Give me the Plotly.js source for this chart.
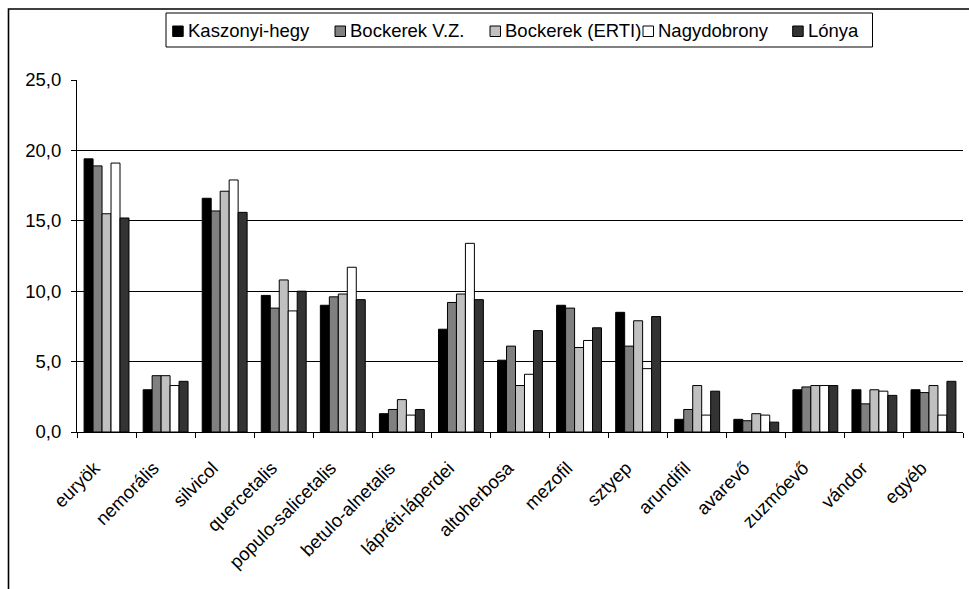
<!DOCTYPE html>
<html>
<head>
<meta charset="utf-8">
<script src="https://cdn.plot.ly/plotly-3.0.1.min.js"></script>
<style>html,body{margin:0;padding:0;background:#fff;}#chart{width:969px;height:589px;}</style>
</head>
<body>
<div id="chart"></div>
<script>
const categories = ["euryök","nemorális","silvicol","quercetalis","populo-salicetalis","betulo-alnetalis","lápréti-láperdei","altoherbosa","mezofil","sztyep","arundifil","avarevő","zuzmóevő","vándor","egyéb"];
const seriesNames = ["Kaszonyi-hegy","Bockerek V.Z.","Bockerek (ERTI)","Nagydobrony","Lónya"];
const kaszonyi   = [19.4, 3.0, 16.6, 9.7, 9.0, 1.3, 7.3, 5.1, 9.0, 8.5, 0.9, 0.9, 3.0, 3.0, 3.0];
const bockerekVZ = [18.9, 4.0, 15.7, 8.8, 9.6, 1.6, 9.2, 6.1, 8.8, 6.1, 1.6, 0.8, 3.2, 2.0, 2.8];
const bockerekE  = [15.5, 4.0, 17.1, 10.8, 9.8, 2.3, 9.8, 3.3, 6.0, 7.9, 3.3, 1.3, 3.3, 3.0, 3.3];
const nagydobrony= [19.1, 3.3, 17.9, 8.6, 11.7, 1.2, 13.4, 4.1, 6.5, 4.5, 1.2, 1.2, 3.3, 2.9, 1.2];
const lonya      = [15.2, 3.6, 15.6, 10.0, 9.4, 1.6, 9.4, 7.2, 7.4, 8.2, 2.9, 0.7, 3.3, 2.6, 3.6];
const yTicks = [0, 5, 10, 15, 20, 25];

const seriesValues = [kaszonyi, bockerekVZ, bockerekE, nagydobrony, lonya];
const colors = ["#000000","#808080","#c0c0c0","#ffffff","#333333"];

const traces = seriesNames.map((n, i) => ({
  type: "bar",
  name: n,
  x: categories,
  y: seriesValues[i],
  marker: {color: colors[i], line: {color: "#000", width: 1}},
  showlegend: false
}));

const W = 969, H = 589, L = 77, R = 6, T = 80, B = 157;
const pw = W - L - R, ph = H - T - B;
const px = v => (v - L) / pw;
const py = v => (H - B - v) / ph;
const FS = 18.5;

// custom legend (Excel style): box, small squares, labels
const legendSquareX = [172.7, 335, 490, 643, 792.7];
const shapes = [
  {type: "rect", xref: "paper", yref: "paper", x0: px(8.5), y0: py(620), x1: px(1000), y1: py(9), line: {color: "#000", width: 1.6}, fillcolor: "rgba(0,0,0,0)", layer: "below"},
  {type: "rect", xref: "paper", yref: "paper", x0: px(166), y0: py(47), x1: px(872.5), y1: py(13), line: {color: "#000", width: 1}, fillcolor: "#fff", layer: "above"}
];
const annotations = [];
seriesNames.forEach((n, i) => {
  const sx = legendSquareX[i];
  shapes.push({type: "rect", xref: "paper", yref: "paper", x0: px(sx), y0: py(36.5), x1: px(sx + 10.5), y1: py(26), line: {color: "#000", width: 1}, fillcolor: colors[i], layer: "above"});
  annotations.push({xref: "paper", yref: "paper", x: px(sx + 14), y: py(30.5), xanchor: "left", yanchor: "middle", text: n, showarrow: false, font: {size: FS, color: "#000"}, borderpad: 0});
});

const layout = {
  width: W, height: H,
  margin: {l: L, r: R, t: T, b: B, pad: 0},
  paper_bgcolor: "#fff", plot_bgcolor: "#fff",
  font: {family: "Liberation Sans, Arial, sans-serif", size: FS, color: "#000"},
  separators: ", ",
  barmode: "group",
  bargap: 0.24,
  bargroupgap: 0,
  showlegend: false,
  xaxis: {
    type: "category", tickangle: -45, showline: true, linecolor: "#000", linewidth: 1,
    ticks: "outside", ticklen: 5, tickcolor: "#000", tickson: "boundaries",
    ticklabelstandoff: 17, ticklabelshift: -12, tickfont: {size: FS},
    showgrid: false, zeroline: false, automargin: false
  },
  yaxis: {
    range: [0, 25], tickvals: yTicks, tickformat: ".1f",
    showline: true, linecolor: "#000", linewidth: 1,
    ticks: "outside", ticklen: 5, tickcolor: "#000", ticklabelstandoff: 6, tickfont: {size: FS},
    showgrid: true, gridcolor: "#000", gridwidth: 1, zeroline: false, automargin: false
  },
  shapes: shapes,
  annotations: annotations
};

Plotly.newPlot("chart", traces, layout, {displayModeBar: false, staticPlot: true});
</script>
</body>
</html>
